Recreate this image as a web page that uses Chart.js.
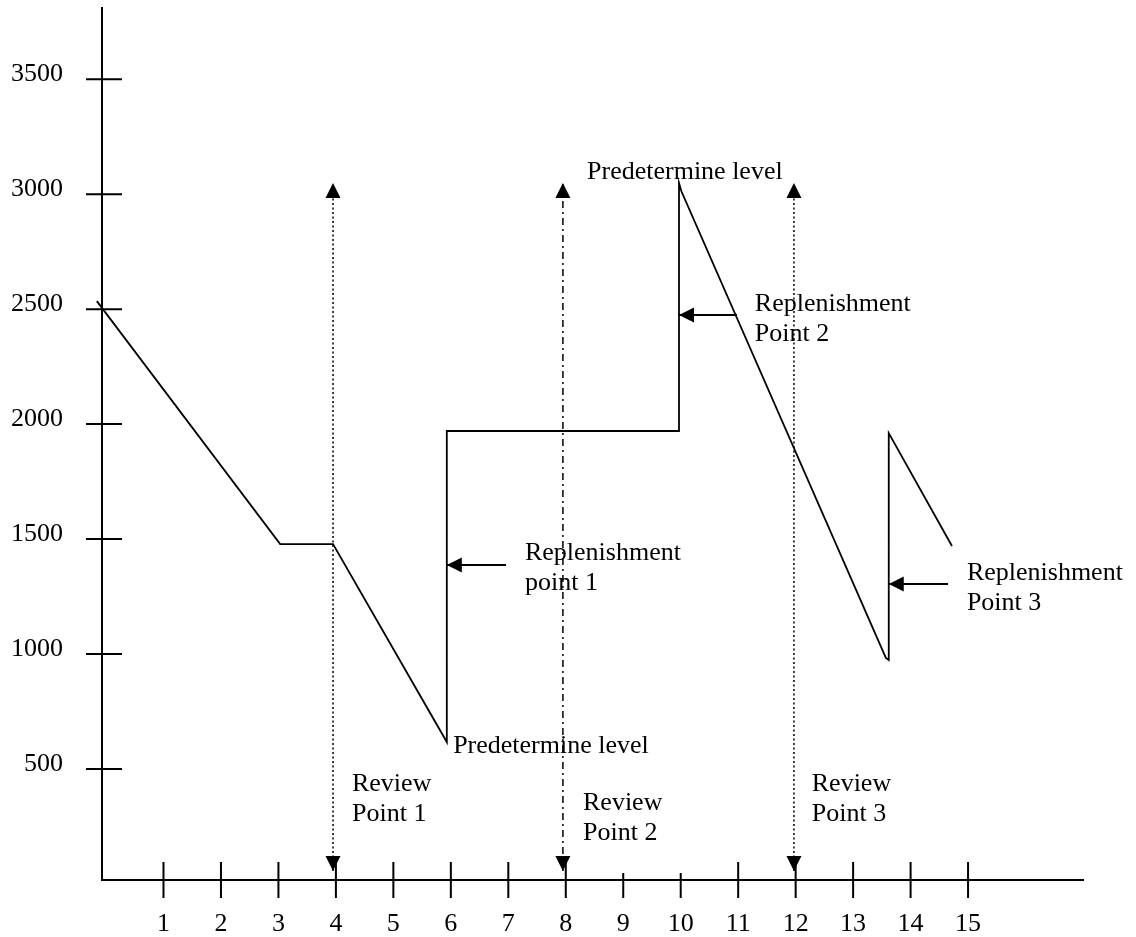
<!DOCTYPE html>
<html>
<head>
<meta charset="utf-8">
<script src="https://cdn.jsdelivr.net/npm/chart.js@4.4.1/dist/chart.umd.min.js"></script>
<style>
  html, body { margin: 0; padding: 0; background: #fff; }
  canvas { display: block; }
</style>
</head>
<body>
<canvas id="inventoryChart" width="1136" height="937"></canvas>
<script>
// stock level path (week, units)
const stockWeeks = [-0.16, 3.03, 3.95, 5.93, 5.93, 9.97, 9.97, 10.01, 13.57, 13.62, 13.62, 14.72];
const stockUnits = [2535, 1478, 1478, 617, 1970, 1970, 3049, 3014, 983, 974, 1961, 1470];

// review points: arrows from the axis up to the top level
const reviewWeeks = [3.95, 7.95, 11.97];
const reviewLow = 56;
const reviewHigh = 3049;

// replenishment arrows (tip on the jump, tail to the right)
const replenTip = [5.93, 9.97, 13.62];
const replenTail = [6.96, 10.98, 14.65];
const replenUnits = [1387, 2475, 1304];

const xTicks = [1, 2, 3, 4, 5, 6, 7, 8, 9, 10, 11, 12, 13, 14, 15];
const yTicks = [500, 1000, 1500, 2000, 2500, 3000, 3500];

const serif = '"Liberation Serif", "Times New Roman", serif';

// text notes, placed in chart units
const notes = [
    { lines: ['Predetermine level'], x: 8.37, y: 3066 },
    { lines: ['Predetermine level'], x: 6.04, y: 569 },
    { lines: ['Review', 'Point 1'], x: 4.28, y: 404 },
    { lines: ['Review', 'Point 2'], x: 8.30, y: 321 },
    { lines: ['Review', 'Point 3'], x: 12.28, y: 404 },
    { lines: ['Replenishment', 'point 1'], x: 7.29, y: 1409 },
    { lines: ['Replenishment', 'Point 2'], x: 11.29, y: 2492 },
    { lines: ['Replenishment', 'Point 3'], x: 14.98, y: 1322 }
];

const reviewDash = [[2, 2.5], [7, 4, 2, 4], [2, 2.5]];

const datasets = [{
    data: stockWeeks.map((w, i) => ({ x: w, y: stockUnits[i] })),
    borderColor: '#000',
    borderWidth: 1.8,
    clip: false
}];

reviewWeeks.forEach((w, i) => {
    datasets.push({
        data: [{ x: w, y: reviewLow }, { x: w, y: reviewHigh }],
        borderColor: '#000',
        borderWidth: 1.5,
        borderDash: reviewDash[i],
        arrowAt: ['start', 'end'],
        clip: false
    });
});

replenUnits.forEach((u, i) => {
    datasets.push({
        data: [{ x: replenTip[i], y: u }, { x: replenTail[i], y: u }],
        borderColor: '#000',
        borderWidth: 2,
        arrowAt: ['start'],
        clip: false
    });
});

// cross ticks on both axes
const axisMarks = {
    id: 'axisMarks',
    afterDraw(chart) {
        const ctx = chart.ctx;
        const xs = chart.scales.x, ys = chart.scales.y;
        const ax = chart.chartArea.left, ay = chart.chartArea.bottom;
        ctx.save();
        ctx.strokeStyle = '#000';
        ctx.lineWidth = 2;
        ctx.beginPath();
        yTicks.forEach(v => {
            const py = ys.getPixelForValue(v);
            ctx.moveTo(ax - 16, py);
            ctx.lineTo(ax + 20, py);
        });
        xTicks.forEach(v => {
            const px = xs.getPixelForValue(v);
            const up = (v === 9 || v === 10) ? 7 : 18;
            ctx.moveTo(px, ay - up);
            ctx.lineTo(px, ay + 18);
        });
        ctx.stroke();
        ctx.restore();
    }
};

const arrowHeads = {
    id: 'arrowHeads',
    afterDatasetsDraw(chart) {
        const ctx = chart.ctx;
        chart.data.datasets.forEach((ds, i) => {
            if (!ds.arrowAt) return;
            const pts = chart.getDatasetMeta(i).data;
            ds.arrowAt.forEach(end => {
                const tip = end === 'start' ? pts[0] : pts[pts.length - 1];
                const back = end === 'start' ? pts[1] : pts[pts.length - 2];
                const a = Math.atan2(tip.y - back.y, tip.x - back.x);
                ctx.save();
                ctx.fillStyle = '#000';
                ctx.translate(tip.x, tip.y);
                ctx.rotate(a);
                ctx.beginPath();
                ctx.moveTo(0, 0);
                ctx.lineTo(-15, -7.5);
                ctx.lineTo(-15, 7.5);
                ctx.closePath();
                ctx.fill();
                ctx.restore();
            });
        });
    }
};

const textNotes = {
    id: 'textNotes',
    afterDraw(chart) {
        const ctx = chart.ctx;
        const xs = chart.scales.x, ys = chart.scales.y;
        ctx.save();
        ctx.fillStyle = '#000';
        ctx.font = '26px ' + serif;
        ctx.textAlign = 'left';
        ctx.textBaseline = 'alphabetic';
        notes.forEach(n => {
            const px = xs.getPixelForValue(n.x);
            const py = ys.getPixelForValue(n.y);
            n.lines.forEach((t, k) => ctx.fillText(t, px, py + k * 30));
        });
        ctx.restore();
    }
};

new Chart(document.getElementById('inventoryChart'), {
    type: 'scatter',
    data: { datasets: datasets },
    options: {
        responsive: false,
        animation: false,
        showLine: true,
        elements: { point: { radius: 0, hoverRadius: 0 }, line: { tension: 0 } },
        layout: { padding: { top: 8, right: 53, left: 0, bottom: 0 } },
        plugins: { legend: { display: false }, tooltip: { enabled: false } },
        scales: {
            x: {
                type: 'linear',
                min: -0.07,
                max: 17,
                grid: { display: false, drawTicks: false },
                border: { display: true, color: '#000', width: 2 },
                ticks: {
                    color: '#000',
                    font: { family: serif, size: 26 },
                    padding: 29,
                    autoSkip: false,
                    maxRotation: 0,
                    callback: v => String(v)
                },
                afterBuildTicks: s => { s.ticks = xTicks.map(v => ({ value: v })); },
                afterFit: s => { s.height = 57; s.paddingLeft = 0; s.paddingRight = 0; }
            },
            y: {
                type: 'linear',
                min: 17,
                max: 3810,
                grid: { display: false, drawTicks: false },
                border: { display: true, color: '#000', width: 2 },
                ticks: {
                    color: '#000',
                    font: { family: serif, size: 26 },
                    padding: 39,
                    labelOffset: -5,
                    callback: v => String(v)
                },
                afterBuildTicks: s => { s.ticks = yTicks.map(v => ({ value: v })); },
                afterFit: s => { s.width = 102; s.paddingTop = 0; s.paddingBottom = 0; }
            }
        }
    },
    plugins: [axisMarks, arrowHeads, textNotes]
});
</script>
</body>
</html>
